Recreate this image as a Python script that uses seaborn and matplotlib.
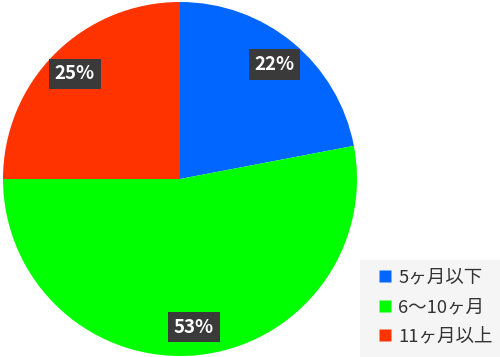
import matplotlib
matplotlib.use("Agg")
import matplotlib.pyplot as plt
from matplotlib.patches import Rectangle
from matplotlib.lines import Line2D
import seaborn as sns

categories = ["5ヶ月以下", "6〜10ヶ月", "11ヶ月以上"]
values = [22, 53, 25]
colors = ["#0066FF", "#00FF00", "#FF3300"]

sns.set_theme(style="white")
plt.rcParams['font.family'] = ['Noto Sans CJK JP', 'DejaVu Sans']

fig = plt.figure(figsize=(5, 3.57), dpi=100)
ax = fig.add_axes([3/500, 1/357, 354/500, 354/357])

wedges, texts, autotexts = ax.pie(
    values, colors=colors, startangle=90, counterclock=False,
    autopct=lambda p: f"{p:.0f}%", pctdistance=0.84,
    wedgeprops=dict(linewidth=0), radius=1.0)
for t in autotexts:
    t.set_color("white")
    t.set_fontsize(13.5)
    t.set_fontweight("bold")
    t.set_bbox(dict(boxstyle="square,pad=0.3", facecolor="#3a3a3a", edgecolor="none"))
ax.set_xlim(-1, 1)
ax.set_ylim(-1, 1)
ax.set_aspect("equal")
ax.axis("off")

# legend background
fig.patches.append(Rectangle((360/500, 0), 140/500, 97/357, transform=fig.transFigure,
                             facecolor="#f5f5f5", edgecolor="none", zorder=0))
handles = [Line2D([0], [0], marker="s", linestyle="none", markersize=9,
                  markerfacecolor=c, markeredgecolor="none") for c in colors]
leg = fig.legend(handles, categories, loc="upper left",
                 bbox_to_anchor=(364/500, 1 - 256/357), frameon=False,
                 fontsize=13.3, labelcolor="#333333", handletextpad=0.25,
                 handlelength=0.9, labelspacing=0.6, borderpad=0.2)

fig.savefig("out.png", dpi=100)
